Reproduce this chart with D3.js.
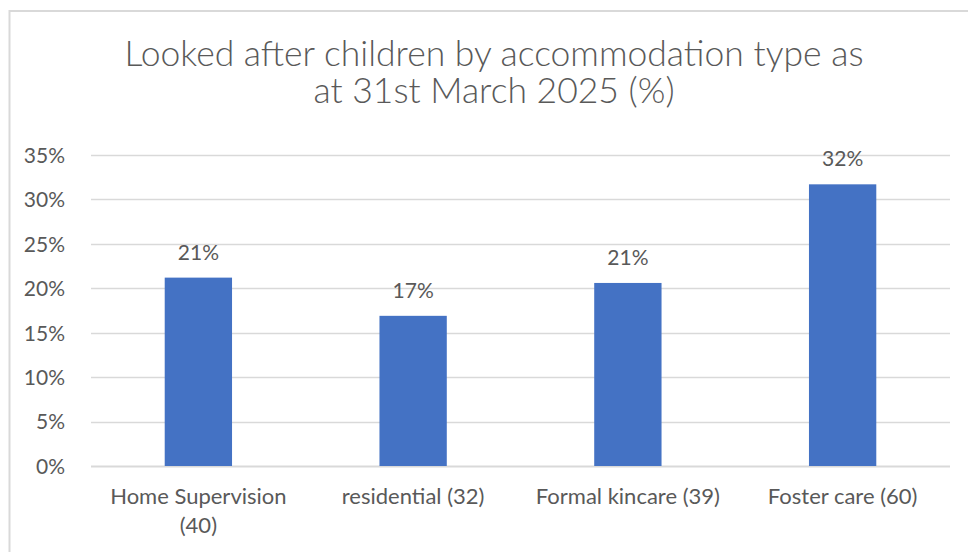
<!DOCTYPE html>
<html>
<head>
<meta charset="utf-8">
<script src="https://cdn.jsdelivr.net/npm/d3@7"></script>
<style>
    html, body { margin: 0; padding: 0; background: #fff; }
    #chart { width: 968px; height: 552px; overflow: hidden; }
    text { font-family: Lato, "Open Sans", sans-serif; fill: #595959; }
</style>
</head>
<body>
<div id="chart"></div>
<script>
const categories = ['Home Supervision (40)', 'residential (32)', 'Formal kincare (39)', 'Foster care (60)'];
const shares = [0.212, 0.169, 0.206, 0.317];
const yTicks = [0, 0.05, 0.10, 0.15, 0.20, 0.25, 0.30, 0.35];
const titleLines = ['Looked after children by accommodation type as', 'at 31st March 2025 (%)'];

const width = 968;
const height = 552;
const margin = { top: 155, right: 18, bottom: 86, left: 91 };
const innerW = width - margin.left - margin.right;
const innerH = height - margin.top - margin.bottom;

const svg = d3.select('#chart')
    .append('svg')
    .attr('width', width)
    .attr('height', height);

// chart frame (runs off the right / bottom edge like the source)
svg.append('rect')
    .attr('x', 9.5)
    .attr('y', 11)
    .attr('width', 970)
    .attr('height', 560)
    .attr('fill', 'none')
    .attr('stroke', '#d9d9d9')
    .attr('stroke-width', 2);

svg.append('text')
    .attr('text-anchor', 'middle')
    .style('font-size', '35.5px')
    .style('font-weight', 300)
    .selectAll('tspan')
    .data(titleLines)
    .enter()
    .append('tspan')
    .attr('x', 494)
    .attr('y', (d, i) => 66 + i * 37)
    .text(d => d);

const g = svg.append('g')
    .attr('transform', `translate(${margin.left}, ${margin.top})`);

const x = d3.scaleBand()
    .domain(categories)
    .range([0, innerW]);

const y = d3.scaleLinear()
    .domain([0, 0.35])
    .range([innerH, 0]);

const barW = x.bandwidth() / 3.19;

// gridlines
g.append('g')
    .selectAll('line')
    .data(yTicks)
    .enter()
    .append('line')
    .attr('x1', 0)
    .attr('x2', innerW)
    .attr('y1', d => Math.round(y(d)) + 0.5)
    .attr('y2', d => Math.round(y(d)) + 0.5)
    .attr('stroke', '#d9d9d9')
    .attr('stroke-width', d => d === 0 ? 2 : 1.5);

// y axis labels
const yAxis = g.append('g')
    .attr('transform', 'translate(-23, 0)')
    .call(d3.axisLeft(y)
        .tickValues(yTicks)
        .tickSize(0)
        .tickFormat(d3.format('.0%')));
yAxis.select('.domain').remove();
yAxis.selectAll('text')
    .style('font-size', '21px')
    .attr('fill', '#595959')
    .attr('dy', '0.35em');

// bars
g.selectAll('.bar')
    .data(categories)
    .enter()
    .append('rect')
    .attr('class', 'bar')
    .attr('x', d => x(d) + (x.bandwidth() - barW) / 2)
    .attr('y', (d, i) => y(shares[i]))
    .attr('width', barW)
    .attr('height', (d, i) => innerH - y(shares[i]))
    .attr('fill', '#4472c4');

// data labels
g.selectAll('.bar-label')
    .data(categories)
    .enter()
    .append('text')
    .attr('class', 'bar-label')
    .attr('x', d => x(d) + x.bandwidth() / 2)
    .attr('y', (d, i) => y(shares[i]) - 18)
    .attr('text-anchor', 'middle')
    .style('font-size', '21px')
    .text((d, i) => d3.format('.0%')(shares[i]));

// category labels, wrapped to the band width
const xAxis = g.append('g')
    .attr('transform', `translate(0, ${innerH})`)
    .call(d3.axisBottom(x).tickSize(0));
xAxis.select('.domain').remove();
xAxis.selectAll('text')
    .style('font-size', '22px')
    .attr('fill', '#595959')
    .attr('y', 38)
    .attr('dy', 0)
    .each(function() { wrap(d3.select(this), x.bandwidth() - 10); });

function wrap(text, maxW) {
    const words = text.text().split(/\s+/);
    const yPos = text.attr('y');
    text.text(null);
    let line = [];
    let lineNo = 0;
    let tspan = text.append('tspan').attr('x', 0).attr('y', yPos);
    words.forEach(word => {
        line.push(word);
        tspan.text(line.join(' '));
        if (tspan.node().getComputedTextLength() > maxW && line.length > 1) {
            line.pop();
            tspan.text(line.join(' '));
            line = [word];
            lineNo++;
            tspan = text.append('tspan')
                .attr('x', 0)
                .attr('y', +yPos + lineNo * 29)
                .text(word);
        }
    });
}
</script>
</body>
</html>
